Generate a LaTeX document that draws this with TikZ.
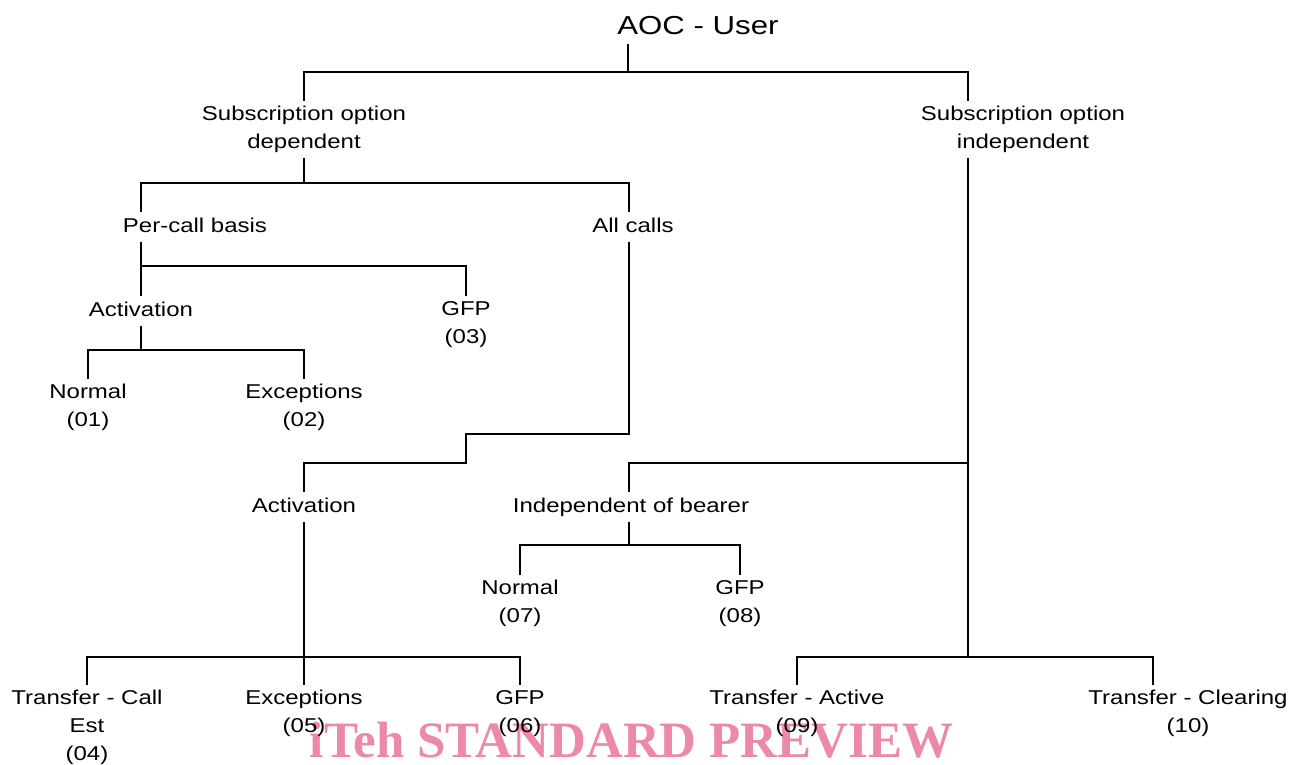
\documentclass[tikz,border=0pt]{standalone}
\usepackage{fontspec}
\setmainfont{Liberation Sans}[FakeStretch=1.2]
\newfontfamily\wmfont{Liberation Serif}
\definecolor{wmpink}{RGB}{236,137,168}
\newcommand\mystrut{\rule[-4.5pt]{0pt}{19.5pt}}
\begin{document}
\begin{tikzpicture}[x=1pt,y=-1pt,
  lbl/.style={anchor=north,align=center,inner xsep=2pt,inner ysep=5pt,
    font=\fontsize{20}{28}\selectfont,
    execute at begin node=\mystrut, execute at end node=\mystrut},
  conn/.style={line width=2pt}]
\useasboundingbox (0,0) rectangle (1292,764);
% watermark
\node[anchor=base,text=wmpink,font=\wmfont\bfseries\fontsize{51}{56}\selectfont,inner sep=0pt] (wm) at (631.5,757) {iTeh STANDARD PREVIEW};
% nodes
\node[anchor=base,font=\fontsize{26}{30}\selectfont,inner ysep=5pt,execute at begin node=\mystrut] (aoc) at (698,34) {AOC - User};
\node[lbl] (sd) at (304,101) {Subscription option\\dependent};
\node[lbl] (si) at (1023,101) {Subscription option\\independent};
\node[lbl] (pc) at (195,212) {Per-call basis};
\node[lbl] (ac) at (633,212) {All calls};
\node[lbl] (act1) at (141,296) {Activation};
\node[lbl] (gfp3) at (466,296) {GFP\\(03)};
\node[lbl] (n1) at (88,379) {Normal\\(01)};
\node[lbl] (e2) at (304,379) {Exceptions\\(02)};
\node[lbl] (act2) at (304,492) {Activation};
\node[lbl] (ib) at (631,492) {Independent of bearer};
\node[lbl] (n7) at (520,575) {Normal\\(07)};
\node[lbl] (g8) at (740,575) {GFP\\(08)};
\node[lbl] (t4) at (87,685) {Transfer - Call\\Est\\(04)};
\node[lbl] (e5) at (304,685) {Exceptions\\(05)};
\node[lbl] (g6) at (520,685) {GFP\\(06)};
\node[lbl] (t9) at (797,685) {Transfer - Active\\(09)};
\node[lbl] (t10) at (1188,685) {Transfer - Clearing\\(10)};
% junction coordinates
\coordinate (h1) at (628,72);
\coordinate (siL) at (968,0);
\coordinate (h2) at (304,183);
\coordinate (pcL) at (141,0);
\coordinate (acL) at (629,0);
\coordinate (h3) at (141,266);
\coordinate (h4) at (141,350);
\coordinate (k1) at (629,434);
\coordinate (k2) at (466,463);
\coordinate (h6) at (304,657);
\coordinate (h7) at (968,657);
\coordinate (h8) at (968,463);
\coordinate (t10L) at (1153,0);
\coordinate (ibL) at (629,0);
\coordinate (h9) at (629,545);
% connectors
\draw[conn] (aoc.south -| h1) -- (h1);
\draw[conn] (sd.north) |- (h1) -| (si.north -| siL);
\draw[conn] (sd.south) -- (h2);
\draw[conn] (pc.north -| pcL) |- (h2) -| (ac.north -| acL);
\draw[conn] (pc.south -| pcL) -- (act1.north);
\draw[conn] (h3) -| (gfp3.north);
\draw[conn] (act1.south) -- (h4);
\draw[conn] (n1.north) |- (h4) -| (e2.north);
\draw[conn] (ac.south -| acL) -- (k1) -| (k2) -| (act2.north);
\draw[conn] (act2.south) -- (e5.north);
\draw[conn] (t4.north) |- (h6) -| (g6.north);
\draw[conn] (si.south -| siL) -- (h7);
\draw[conn] (t9.north) |- (h7) -| (t10.north -| t10L);
\draw[conn] (ib.north -| ibL) |- (h8);
\draw[conn] (ib.south -| ibL) -- (h9);
\draw[conn] (n7.north) |- (h9) -| (g8.north);
\end{tikzpicture}
\end{document}
